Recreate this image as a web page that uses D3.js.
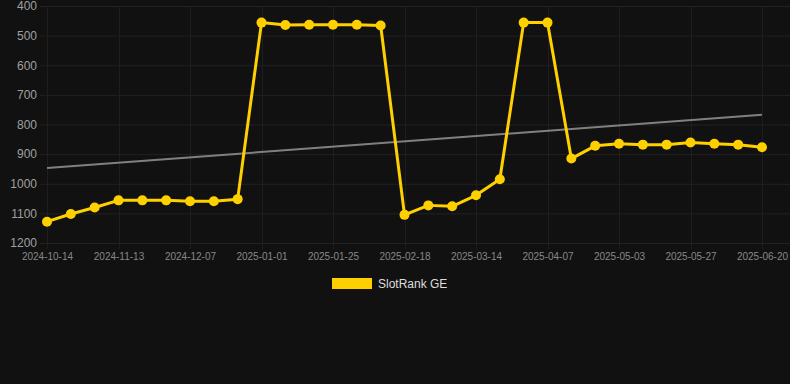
<!DOCTYPE html>
<html>
<head>
<meta charset="utf-8">
<script src="https://cdn.jsdelivr.net/npm/d3@7"></script>
<style>
  html, body { margin: 0; padding: 0; background: #111111; }
  svg { display: block; font-family: Arial, "Liberation Sans", sans-serif; }
</style>
</head>
<body>
<div id="chart"></div>
<script>
// categories (every third one is labelled on the axis)
const dates = [
  '2024-10-14', '2024-10-24', '2024-11-03', '2024-11-13', '2024-11-21', '2024-11-29',
  '2024-12-07', '2024-12-15', '2024-12-23', '2025-01-01', '2025-01-09', '2025-01-17',
  '2025-01-25', '2025-02-02', '2025-02-10', '2025-02-18', '2025-02-26', '2025-03-06',
  '2025-03-14', '2025-03-22', '2025-03-30', '2025-04-07', '2025-04-16', '2025-04-25',
  '2025-05-03', '2025-05-11', '2025-05-19', '2025-05-27', '2025-06-04', '2025-06-12',
  '2025-06-20'
];

// SlotRank GE values (lower is better, axis is reversed)
const rankValues = [
  1128, 1102, 1080, 1056, 1056, 1056, 1059, 1059, 1052, 456, 464,
  463, 463, 463, 466, 1105, 1073, 1076, 1039, 985, 456, 456,
  915, 872, 865, 868, 868, 861, 865, 868, 877
];

// trend line end points (first and last category)
const trendValues = [947, 767];

const yTicks = [400, 500, 600, 700, 800, 900, 1000, 1100, 1200];
const seriesName = 'SlotRank GE';

const width = 790;
const height = 384;
const gold = '#ffd000';

const svg = d3.select('#chart')
  .append('svg')
  .attr('width', width)
  .attr('height', height);

const x = d3.scalePoint()
  .domain(dates)
  .range([47, 762]);

const y = d3.scaleLinear()
  .domain([400, 1200])
  .range([6, 243]);

const labelled = dates.filter((d, i) => i % 3 === 0);

// grid
svg.append('g')
  .selectAll('line')
  .data(yTicks)
  .join('line')
  .attr('x1', 40)
  .attr('x2', width)
  .attr('y1', d => y(d) + 0.5)
  .attr('y2', d => y(d) + 0.5)
  .attr('stroke', '#222')
  .attr('stroke-width', 1);

svg.append('g')
  .selectAll('line')
  .data(labelled)
  .join('line')
  .attr('x1', d => Math.round(x(d)) + 0.5)
  .attr('x2', d => Math.round(x(d)) + 0.5)
  .attr('y1', y(400))
  .attr('y2', y(1200) + 6)
  .attr('stroke', '#1e1e1e')
  .attr('stroke-width', 1);

// y axis
const yAxis = svg.append('g')
  .attr('transform', 'translate(37,0)')
  .call(d3.axisLeft(y).tickValues(yTicks).tickFormat(d3.format('d')).tickSize(0).tickPadding(0));
yAxis.select('.domain').remove();
yAxis.selectAll('text')
  .attr('fill', '#a0a0a0')
  .style('font-size', '12px');

// x axis
const xAxis = svg.append('g')
  .attr('transform', `translate(0,${y(1200) + 10})`)
  .call(d3.axisBottom(x).tickValues(labelled).tickSize(0).tickPadding(0));
xAxis.select('.domain').remove();
xAxis.selectAll('text')
  .attr('fill', '#888')
  .style('font-size', '10px');

// trend line
svg.append('line')
  .attr('x1', x(dates[0]))
  .attr('y1', y(trendValues[0]))
  .attr('x2', x(dates[dates.length - 1]))
  .attr('y2', y(trendValues[1]))
  .attr('stroke', '#808080')
  .attr('stroke-width', 2);

// series
const series = dates.map((d, i) => ({ date: d, value: rankValues[i] }));

svg.append('path')
  .datum(series)
  .attr('fill', 'none')
  .attr('stroke', gold)
  .attr('stroke-width', 3)
  .attr('stroke-linejoin', 'round')
  .attr('d', d3.line().x(d => x(d.date)).y(d => y(d.value)));

svg.append('g')
  .selectAll('circle')
  .data(series)
  .join('circle')
  .attr('cx', d => x(d.date))
  .attr('cy', d => y(d.value))
  .attr('r', 5)
  .attr('fill', gold);

// legend
const legend = svg.append('g').attr('transform', 'translate(332,278)');
legend.append('rect')
  .attr('width', 40)
  .attr('height', 11)
  .attr('fill', gold);
legend.append('text')
  .attr('x', 46)
  .attr('y', 10)
  .attr('fill', '#dddddd')
  .style('font-size', '12px')
  .text(seriesName);
</script>
</body>
</html>
